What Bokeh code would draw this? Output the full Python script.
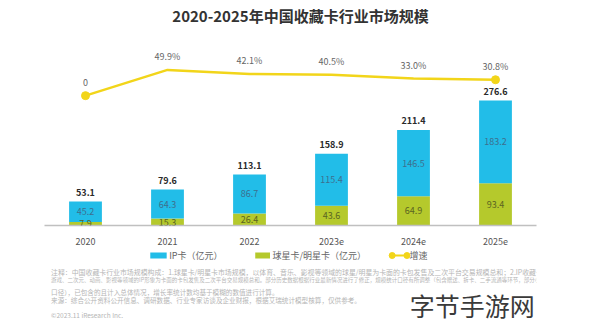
from bokeh.plotting import figure
from bokeh.layouts import column
from bokeh.models import (ColumnDataSource, FactorRange, Range1d, Label, LabelSet,
                          CDSView, IndexFilter)
from bokeh.embed import file_html
from bokeh.resources import INLINE
from bokeh.core.properties import value

# ---------------- data ----------------
years = ["2020", "2021", "2022", "2023e", "2024e", "2025e"]
ip_card = [45.2, 64.3, 86.7, 115.4, 146.5, 183.2]        # IP卡（亿元）
star_card = [7.9, 15.3, 26.4, 43.6, 64.9, 93.4]          # 球星卡/明星卡（亿元）
totals = [53.1, 79.6, 113.1, 158.9, 211.4, 276.6]
growth = [0, 49.9, 42.1, 40.5, 33.0, 30.8]               # 增速 %
growth_labels = ["0", "49.9%", "42.1%", "40.5%", "33.0%", "30.8%"]
legend_labels = ["IP卡（亿元）", "球星卡/明星卡（亿元）", "增速"]

title_text = "2020-2025年中国收藏卡行业市场规模"
notes = [
    "注释：中国收藏卡行业市场规模构成：1.球星卡/明星卡市场规模，以体育、音乐、影视等领域的球星/明星为卡面的卡包发售及二次平台交易规模总和；2.IP收藏卡市场规模，以",
    "游戏、二次元、动画、影视等领域的IP形象为卡面的卡包发售及二次平台交易规模总和。部分历史数据根据行业最新情况进行了修正，规模统计口径有所调整（包含赠送、拆卡、二手流通等环节，部分小平台数据未计入统计",
    "口径），已包含的且计入总体情况，增长率统计数均基于模糊的数值进行计算。",
    "来源：综合公开资料公开信息、调研数据、行业专家访谈及企业财报，根据艾瑞统计模型核算，仅供参考。",
    "©2023.11 iResearch Inc.",
]

FONT = "Noto Sans CJK SC"
BLUE = "#22bde8"
GREEN = "#b5c92c"
YELLOW = "#f2d51a"

src = ColumnDataSource(dict(
    year=years, ip=ip_card, star=star_card, total=totals,
    growth=growth, glabel=growth_labels,
    star_mid=[s / 2 for s in star_card],
    ip_mid=[s + i / 2 for s, i in zip(star_card, ip_card)],
    star_txt=[f"{v:.1f}" for v in star_card],
    ip_txt=[f"{v:.1f}" for v in ip_card],
    total_txt=[f"{v:.1f}" for v in totals],
))

W = 600
FL, FR = 44, 64
BASE_Y = 227          # pixel row of the bar baseline
TOP_H = 247           # height of the chart figure
BOT_H = 322 - TOP_H   # height of the legend/notes figure

# ---------------- chart figure ----------------
p = figure(width=W, height=TOP_H, x_range=FactorRange(factors=years),
           y_range=Range1d(0, BASE_Y / 0.456),
           output_backend="svg", toolbar_location=None,
           min_border_left=FL, min_border_right=FR, min_border_top=0,
           min_border_bottom=TOP_H - BASE_Y)
p.extra_y_ranges = {"g": Range1d(-131 / 0.521, (BASE_Y - 131) / 0.521)}
p.outline_line_color = None
p.background_fill_color = "white"
p.border_fill_color = "white"
p.xgrid.visible = False
p.ygrid.visible = False
p.yaxis.visible = False

xa = p.xaxis[0]
xa.axis_line_color = "#c0c0c0"
xa.axis_line_width = 1.5
xa.major_tick_line_color = None
xa.minor_tick_line_color = None
xa.major_label_text_color = "#555555"
xa.major_label_text_font = FONT
xa.major_label_text_font_size = "9px"
xa.major_label_standoff = 6

p.vbar_stack(["star", "ip"], x="year", width=0.4, source=src,
             color=[GREEN, BLUE], line_color=None)
p.line("year", "growth", source=src, y_range_name="g",
       line_color=YELLOW, line_width=2.5)
p.scatter("year", "growth", source=src, y_range_name="g",
          view=CDSView(filter=IndexFilter([0, 5])), size=8, color=YELLOW)

common = dict(source=src, x="year", text_align="center", text_baseline="middle",
              text_font=value(FONT), text_font_size="9px")
p.add_layout(LabelSet(y="star_mid", text="star_txt", text_color="#5b6522", **common))
p.add_layout(LabelSet(y="ip_mid", text="ip_txt", text_color="#3d6f8e", **common))
p.add_layout(LabelSet(y="total", text="total_txt", y_offset=9, text_color="#2a2a2a",
                      text_font_style="bold", **common))
p.add_layout(LabelSet(y="growth", text="glabel", y_range_name="g", y_offset=13,
                      text_color="#666666", **common))

p.add_layout(Label(x=W / 2 - FL, y=BASE_Y - 17, x_units="screen", y_units="screen",
                   text=title_text, text_align="center", text_baseline="middle",
                   text_font=FONT, text_font_size="15px", text_font_style="bold",
                   text_color="#333333"))

# ---------------- legend / notes figure ----------------
q = figure(width=W, height=BOT_H, x_range=Range1d(0, W), y_range=Range1d(0, BOT_H),
           output_backend="svg", toolbar_location=None,
           x_axis_type=None, y_axis_type=None,
           min_border_left=0, min_border_right=0, min_border_top=0, min_border_bottom=0)
q.outline_line_color = None
q.background_fill_color = "white"
q.border_fill_color = "white"
q.grid.visible = False


def py(y):  # page row -> y in the notes figure
    return BOT_H - (y - TOP_H)


# legend (drawn as keys + labels)
LEG_Y = py(255)
q.quad(left=[129, 257], right=[149, 275], bottom=[LEG_Y - 3] * 2, top=[LEG_Y + 3] * 2,
       color=[BLUE, GREEN], line_color=None)
q.line(x=[424, 442], y=[LEG_Y, LEG_Y], line_color=YELLOW, line_width=2)
q.scatter(x=[424, 442], y=[LEG_Y, LEG_Y], size=6, color=YELLOW)
q.text(x=[152, 278, 445], y=[LEG_Y] * 3, text=legend_labels,
       text_align="left", text_baseline="middle", text_font=value(FONT),
       text_font_size="9px", text_color="#666666")

note_y = [271, 279, 291, 299, 314]
note_size = ["6.9px", "5.5px", "6.6px", "6.6px", "6.5px"]
for t, y, s in zip(notes, note_y, note_size):
    q.add_layout(Label(x=8, y=py(y), text=t, text_align="left", text_baseline="middle",
                       text_font=FONT, text_font_size=s, text_color="#b5b5b5"))

q.add_layout(Label(x=598, y=py(304), text="字节手游网", text_align="right",
                   text_baseline="middle", text_font=FONT, text_font_size="25px",
                   text_color="#3a3a3a"))

page = column(p, q, spacing=0)
open("out.html", "w").write(file_html(page, INLINE))
